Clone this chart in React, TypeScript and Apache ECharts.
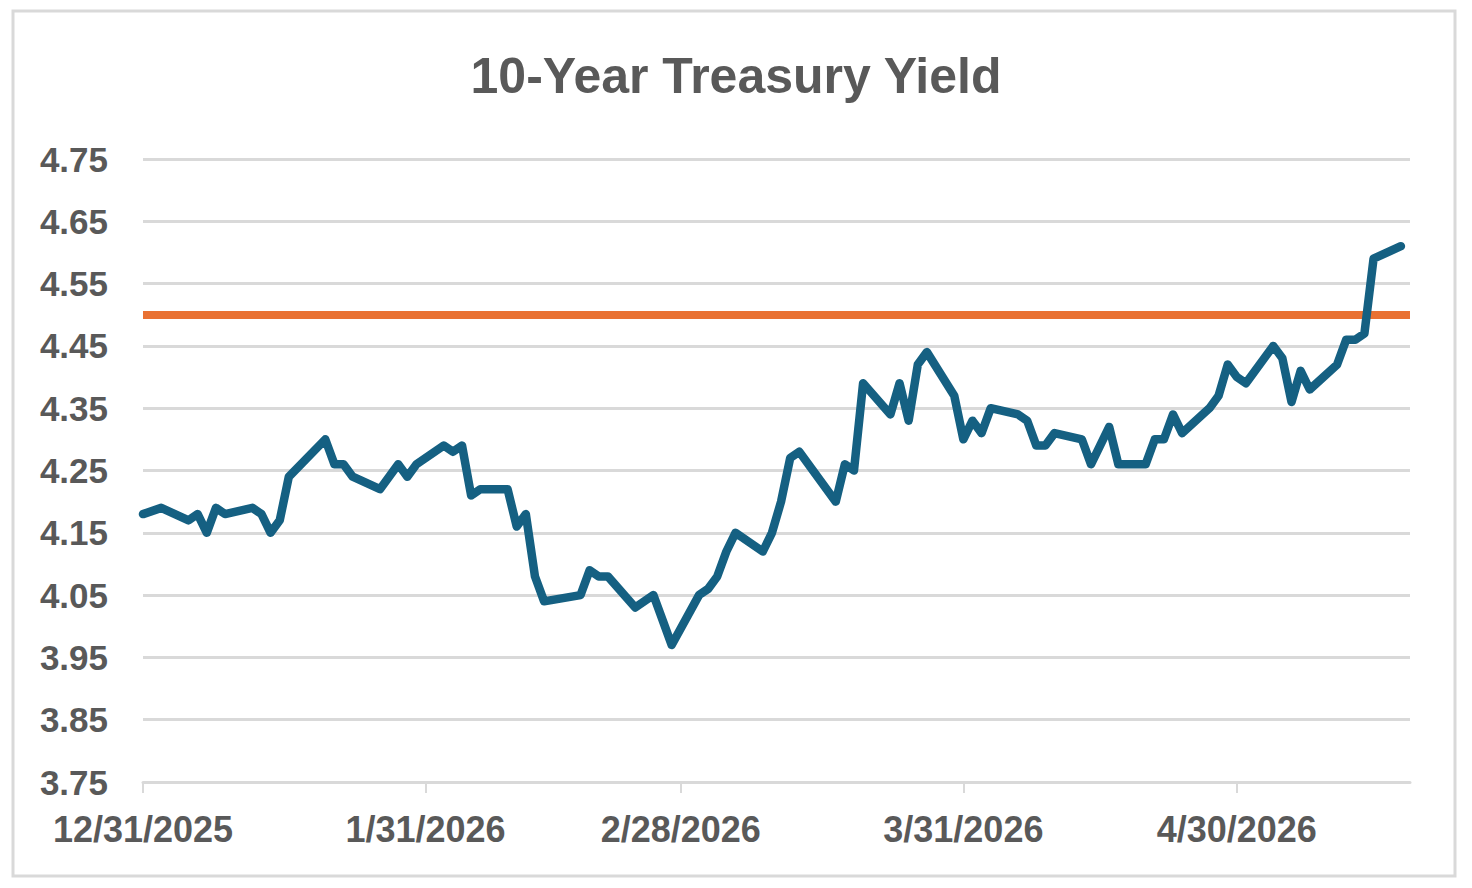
import * as echarts from "echarts";
import { useEffect, useRef } from "react";

// Trading days (Dec 31, 2025 – May 18, 2026)
const dates = [
  "2025-12-31", "2026-01-02", "2026-01-05", "2026-01-06", "2026-01-07",
  "2026-01-08", "2026-01-09", "2026-01-12", "2026-01-13", "2026-01-14",
  "2026-01-15", "2026-01-16", "2026-01-20", "2026-01-21", "2026-01-22",
  "2026-01-23", "2026-01-26", "2026-01-27", "2026-01-28", "2026-01-29",
  "2026-01-30", "2026-02-02", "2026-02-03", "2026-02-04", "2026-02-05",
  "2026-02-06", "2026-02-09", "2026-02-10", "2026-02-11", "2026-02-12",
  "2026-02-13", "2026-02-17", "2026-02-18", "2026-02-19", "2026-02-20",
  "2026-02-23", "2026-02-24", "2026-02-25", "2026-02-26", "2026-02-27",
  "2026-03-02", "2026-03-03", "2026-03-04", "2026-03-05", "2026-03-06",
  "2026-03-09", "2026-03-10", "2026-03-11", "2026-03-12", "2026-03-13",
  "2026-03-16", "2026-03-17", "2026-03-18", "2026-03-19", "2026-03-20",
  "2026-03-23", "2026-03-24", "2026-03-25", "2026-03-26", "2026-03-27",
  "2026-03-30", "2026-03-31", "2026-04-01", "2026-04-02", "2026-04-03",
  "2026-04-06", "2026-04-07", "2026-04-08", "2026-04-09", "2026-04-10",
  "2026-04-13", "2026-04-14", "2026-04-15", "2026-04-16", "2026-04-17",
  "2026-04-20", "2026-04-21", "2026-04-22", "2026-04-23", "2026-04-24",
  "2026-04-27", "2026-04-28", "2026-04-29", "2026-04-30", "2026-05-01",
  "2026-05-04", "2026-05-05", "2026-05-06", "2026-05-07", "2026-05-08",
  "2026-05-11", "2026-05-12", "2026-05-13", "2026-05-14", "2026-05-15",
  "2026-05-18",
];

// 10-year yield, %
const yields = [
  4.18, 4.19, 4.17, 4.18, 4.15,
  4.19, 4.18, 4.19, 4.18, 4.15,
  4.17, 4.24, 4.30, 4.26, 4.26,
  4.24, 4.22, 4.24, 4.26, 4.24,
  4.26, 4.29, 4.28, 4.29, 4.21,
  4.22, 4.22, 4.16, 4.18, 4.08,
  4.04, 4.05, 4.09, 4.08, 4.08,
  4.03, 4.04, 4.05, 4.01, 3.97,
  4.05, 4.06, 4.08, 4.12, 4.15,
  4.12, 4.15, 4.20, 4.27, 4.28,
  4.22, 4.20, 4.26, 4.25, 4.39,
  4.34, 4.39, 4.33, 4.42, 4.44,
  4.37, 4.30, 4.33, 4.31, 4.35,
  4.34, 4.33, 4.29, 4.29, 4.31,
  4.30, 4.26, 4.29, 4.32, 4.26,
  4.26, 4.30, 4.30, 4.34, 4.31,
  4.35, 4.37, 4.42, 4.40, 4.39,
  4.45, 4.43, 4.36, 4.41, 4.38,
  4.42, 4.46, 4.46, 4.47, 4.59,
  4.61,
];

const thresholdYield = 4.5;
const axisStart = "2025-12-31";
const axisEnd = "2026-05-19";
const dateTicks = ["2025-12-31", "2026-01-31", "2026-02-28", "2026-03-31", "2026-04-30"];
const yMin = 3.75;
const yMax = 4.75;
const yStep = 0.1;

const toTime = (s: string) => {
  const [y, m, d] = s.split("-").map(Number);
  return new Date(y, m - 1, d).getTime();
};

const TEXT = "#595959";
const GRID = "#d9d9d9";
const FONT = "'Liberation Sans', Arial, sans-serif";

export default function App() {
  const chartRef = useRef<HTMLDivElement | null>(null);

  useEffect(() => {
    const el = chartRef.current;
    if (!el) return;
    const chart = echarts.init(el, undefined, { renderer: "svg" });

    const tickTimes = dateTicks.map(toTime);

    const option: echarts.EChartsOption = {
      animation: false,
      backgroundColor: "#ffffff",
      textStyle: { fontFamily: FONT },
      title: {
        text: "10-Year Treasury Yield",
        left: "center",
        top: 46,
        textStyle: { fontSize: 50, fontWeight: "bold", color: TEXT, fontFamily: FONT },
      },
      graphic: [
        {
          type: "rect",
          shape: { x: 13, y: 11, width: 1442, height: 865 },
          style: { fill: "none", stroke: GRID, lineWidth: 3 },
          silent: true,
        },
      ],
      grid: { left: 143, right: 62, top: 159, bottom: 106, containLabel: false },
      xAxis: {
        type: "value",
        min: toTime(axisStart),
        max: toTime(axisEnd),
        splitLine: { show: false },
        axisLine: { show: true, lineStyle: { color: GRID, width: 3 } },
        axisTick: {
          show: true,
          customValues: tickTimes,
          length: 11,
          lineStyle: { color: GRID, width: 2 },
        },
        axisLabel: {
          customValues: tickTimes,
          margin: 29,
          fontSize: 36,
          fontWeight: "bold",
          color: TEXT,
          fontFamily: FONT,
          formatter: (v: number) => {
            const d = new Date(v);
            return `${d.getMonth() + 1}/${d.getDate()}/${d.getFullYear()}`;
          },
        },
      },
      yAxis: {
        type: "value",
        min: yMin,
        max: yMax,
        interval: yStep,
        axisLine: { show: false },
        axisTick: { show: false },
        splitLine: { lineStyle: { color: GRID, width: 3 } },
        axisLabel: {
          margin: 35,
          fontSize: 35,
          fontWeight: "bold",
          color: TEXT,
          fontFamily: FONT,
          formatter: (v: number) => v.toFixed(2),
        },
      },
      series: [
        {
          name: "10-Year Treasury Yield",
          type: "line",
          data: dates.map((d, i) => [toTime(d), yields[i]]),
          showSymbol: false,
          symbol: "none",
          lineStyle: { color: "#156082", width: 8.5, cap: "round", join: "round" },
          z: 3,
          markLine: {
            silent: true,
            symbol: "none",
            label: { show: false },
            lineStyle: { color: "#e97132", width: 8, type: "solid", cap: "butt" },
            data: [{ yAxis: thresholdYield }],
            z: 2,
          },
        },
      ],
    };

    chart.setOption(option, { notMerge: true });

    return () => {
      if (!chart.isDisposed()) chart.dispose();
    };
  }, []);

  return (
    <div
      ref={chartRef}
      style={{ position: "fixed", left: 0, top: 0, width: 1472, height: 888, background: "#fff" }}
    />
  );
}
